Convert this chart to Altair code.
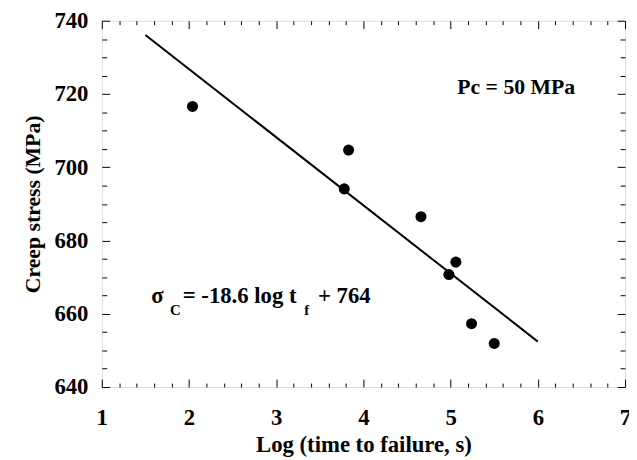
import altair as alt
import pandas as pd

# Measured data
log_tf = [2.04, 3.83, 3.78, 4.66, 5.06, 4.98, 5.24, 5.50]
stress = [716.6, 704.7, 694.1, 686.5, 674.1, 670.7, 657.3, 651.9]

# Fit line sigma = -18.6 log tf + 764, drawn from 1.5 to 6
fit_x = [1.5, 6.0]
fit_y = [736.1, 652.4]

x_labels = [1, 2, 3, 4, 5, 6, 7]
y_labels = [640, 660, 680, 700, 720, 740]
x_ticks = [round(1 + 0.2 * i, 1) for i in range(31)]
y_ticks = [640 + 5 * i for i in range(21)]

FONT = "Liberation Serif"
W, H = 530, 371

pts = pd.DataFrame({"x": log_tf, "y": stress})
line = pd.DataFrame({"x": fit_x, "y": fit_y})

xs = alt.Scale(domain=[1, 7], nice=False, zero=False)
ys = alt.Scale(domain=[640, 740], nice=False, zero=False)

lab_x = alt.Axis(values=x_labels, ticks=False, tickSize=0, domain=False, grid=False,
                 labelFontSize=23, labelFont=FONT, labelFontWeight="bold", labelColor="black",
                 labelPadding=20, labelFlush=False, labelOverlap=False, labelBound=False,
                 title="Log (time to failure, s)", titleFont=FONT, titleFontSize=23,
                 titleFontWeight="bold", titleColor="black", titlePadding=4, format="d")
lab_y = alt.Axis(values=y_labels, ticks=False, tickSize=0, domain=False, grid=False,
                 labelFontSize=23, labelFont=FONT, labelFontWeight="bold", labelColor="black",
                 labelPadding=14, labelFlush=False, labelOverlap=False, labelBound=False,
                 title="Creep stress (MPa)", titleFont=FONT, titleFontSize=22,
                 titleFontWeight="bold", titleColor="black", titlePadding=10, format="d")

xcond = {"condition": {"test": "datum.value % 1 === 0", "value": 8}, "value": 4}
ycond = {"condition": {"test": "datum.value % 20 === 0", "value": 8}, "value": 5}


def tick_axis(orient, values, offset, cond):
    return alt.Axis(orient=orient, values=values, offset=offset, labels=False, domain=False,
                    grid=False, title=None, ticks=True, tickSize=cond, tickColor="black",
                    tickWidth=1)


points = alt.Chart(pts).mark_point(filled=True, size=125, color="black", opacity=1).encode(
    x=alt.X("x:Q", scale=xs, axis=lab_x),
    y=alt.Y("y:Q", scale=ys, axis=lab_y),
)

fit = alt.Chart(line).mark_line(color="black", strokeWidth=2).encode(
    x=alt.X("x:Q", scale=xs, axis=tick_axis("top", x_ticks, -H, xcond)),
    y=alt.Y("y:Q", scale=ys, axis=tick_axis("right", y_ticks, -W, ycond)),
)

pc = pd.DataFrame({"x": [5.076], "y": [720.1], "t": ["Pc = 50 MPa"]})
pc_text = alt.Chart(pc).mark_text(align="left", baseline="alphabetic", font=FONT,
                                  fontWeight="bold", fontSize=22, color="black").encode(
    x=alt.X("x:Q", scale=xs, axis=tick_axis("bottom", x_ticks, -H, xcond)),
    y=alt.Y("y:Q", scale=ys, axis=tick_axis("left", y_ticks, -W, ycond)),
    text="t:N",
)

eq_main = pd.DataFrame({"x": [1.566, 1.928, 3.479], "y": [662.9, 662.9, 662.9],
                        "t": ["σ", "= -18.6 log t", "+ 764"]})
eq_sub = pd.DataFrame({"x": [1.781, 3.321], "y": [659.7, 659.7], "t": ["C", "f"]})

eq1 = alt.Chart(eq_main).mark_text(align="left", baseline="alphabetic", font=FONT,
                                   fontWeight="bold", fontSize=23, color="black").encode(
    x=alt.X("x:Q", scale=xs, axis=None), y=alt.Y("y:Q", scale=ys, axis=None), text="t:N")
eq2 = alt.Chart(eq_sub).mark_text(align="left", baseline="alphabetic", font=FONT,
                                  fontWeight="bold", fontSize=15, color="black").encode(
    x=alt.X("x:Q", scale=xs, axis=None), y=alt.Y("y:Q", scale=ys, axis=None), text="t:N")

chart = alt.layer(points, fit, pc_text, eq1, eq2).resolve_axis(
    x="independent", y="independent"
).properties(
    width=W, height=H,
    autosize=alt.AutoSizeParams(type="none"),
    padding={"left": 95, "top": 10, "right": 4, "bottom": 71},
).configure_view(stroke="black", strokeWidth=1.5).configure(background="white")

chart.save("out.html", embed_options={"renderer": "svg", "actions": False})
